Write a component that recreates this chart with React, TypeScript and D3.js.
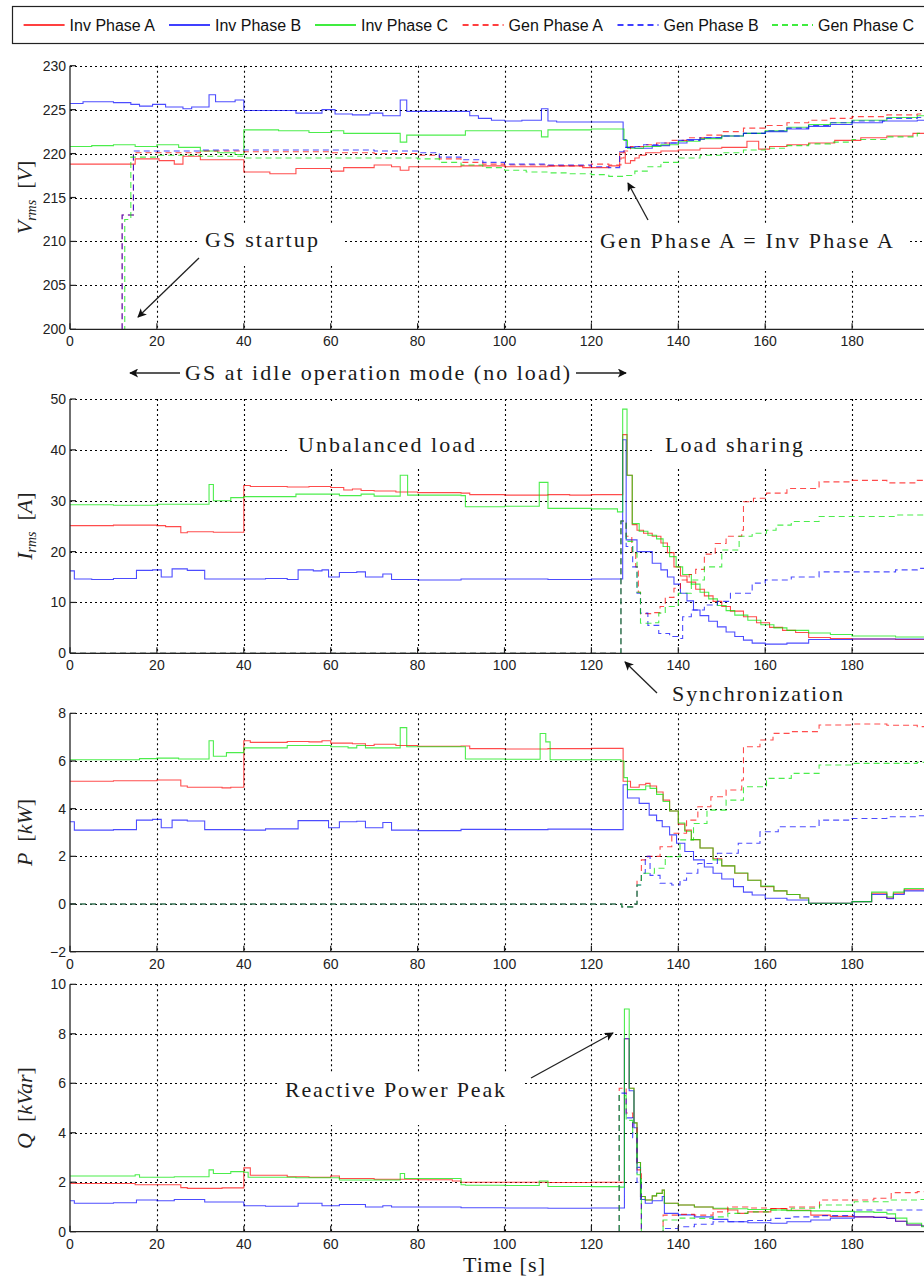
import React from 'react';
import * as d3 from 'd3';

type Pt = [number, number];

// ---------------- DATA ----------------
const legendLabels = ['Inv Phase A', 'Inv Phase B', 'Inv Phase C', 'Gen Phase A', 'Gen Phase B', 'Gen Phase C'];
const xTicks = [0, 20, 40, 60, 80, 100, 120, 140, 160, 180, 200];
const vTicks = [200, 205, 210, 215, 220, 225, 230];
const iTicks = [0, 10, 20, 30, 40, 50];
const pTicks = [-2, 0, 2, 4, 6, 8];
const qTicks = [0, 2, 4, 6, 8, 10];

// Panel 1: Vrms [V]
const vInvA: Pt[] = [[0,218.8],[15,219.4],[20.5,219.2],[24,218.8],[26,219.7],[30,219.3],[40,217.9],[46,217.7],[52,218.3],[60,218],[63,218.4],[70,218.7],[74,218.5],[76,218.1],[78,218.5],[90,218.6],[100,218.5],[110,218.6],[118,218.4],[124,218.6],[126.5,220.1],[127.8,218.9],[129,219.2],[130,219.5],[131,219.8],[132.5,220.1],[136,220.3],[140,220.4],[145,220.6],[150,220.7],[155.8,221.4],[158.5,220.5],[161,220.8],[165,221],[170,221.2],[176,221.5],[182,221.8],[188,222],[194,222.3],[200,222.4]];
const vInvB: Pt[] = [[0,225.7],[3,225.9],[10,225.8],[14,225.6],[16,225.4],[19,225.6],[22,225.3],[26,225.1],[28,225.3],[32,226.7],[33.5,225.9],[38,226.1],[40,224.9],[50,224.9],[52,224.6],[58,225],[61,224.5],[65,224.4],[69,224.6],[72,224.3],[76,226.1],[77.5,224.8],[90,224.8],[92,224.3],[94,224],[97,223.8],[100,223.7],[104,223.8],[108.5,225.1],[110,223.7],[112,223.6],[127.3,221.6],[128,220.7],[130,220.6],[134,220.9],[138,221.2],[142,221.6],[146,221.8],[150,222],[155,222.3],[160,222.5],[165,222.8],[170,223.1],[175,223.3],[180,223.5],[187,223.7],[195,223.8],[200,223.9]];
const vInvC: Pt[] = [[0,220.8],[5,220.9],[10,221],[15,220.8],[20,221],[25,220.7],[30,220.3],[34,220.1],[38,219.9],[40,222.7],[48,222.6],[55,222.4],[60,222.6],[63,222.3],[76,221.3],[77.5,222.1],[91,222.6],[108.5,221.9],[110,222.7],[120,222.8],[127.5,221.5],[128.3,220.6],[132,220.8],[136,221],[140,221.4],[145,221.7],[150,222],[155,222.3],[160,222.6],[165,223],[170,223.3],[175,223.5],[180,223.8],[188,224.1],[195,224.3],[200,224.3]];
const vGenA: Pt[] = [[0,190],[12,213],[14.6,220.1],[30,220.3],[40,220.2],[60,220.1],[70,220],[80,219.8],[85,219.4],[90,219],[95,218.8],[100,218.7],[110,218.6],[120,218.8],[124,218.7],[126.8,219.5],[127.5,220.3],[129,220.8],[132,221],[135,221.2],[138,221.5],[142,221.8],[146,222.1],[150,222.5],[155,222.9],[160,223.2],[165,223.5],[170,223.8],[175,224],[180,224.2],[188,224.4],[195,224.5],[200,224.6]];
const vGenB: Pt[] = [[0,190],[12,213],[14.6,220.3],[30,220.4],[50,220.4],[70,220.3],[80,220.1],[85,219.6],[90,219.3],[95,219],[100,218.8],[110,218.7],[120,218.5],[124,218.4],[126.5,220.2],[127.5,220.7],[130,220.8],[132,221],[136,221.2],[140,221.5],[145,221.8],[150,222],[155,222.3],[160,222.6],[165,222.9],[170,223.2],[175,223.5],[180,223.7],[188,224],[195,224.1],[200,224.1]];
const vGenC: Pt[] = [[0,190],[12.6,212.5],[14,219.6],[20,219.8],[30,219.7],[40,219.5],[60,219.5],[80,219.4],[85,219],[90,218.7],[95,218.4],[100,218.1],[105,217.9],[110,217.8],[115,217.7],[120,217.6],[124,217.4],[127.5,217.5],[130,218],[133,218.5],[136,219],[140,219.5],[145,219.8],[150,220.1],[155,220.4],[160,220.6],[165,220.9],[170,221.1],[175,221.3],[180,221.6],[188,221.9],[195,222.3],[200,222.3]];

// Panel 2: Irms [A]
const iInvA: Pt[] = [[0,25.1],[10,25.2],[20,25.1],[22,24.9],[25.5,23.7],[27,23.9],[33,23.8],[40,33],[41.5,32.8],[50,32.7],[55,32.8],[60,32.6],[63,32.1],[65,32.3],[67,32],[70,31.9],[75,31.7],[80,31.6],[90,31.5],[92,31.2],[100,31.1],[110,31.2],[115,31.1],[120,31.2],[127.2,43],[128.2,35],[129.4,25.3],[130.5,24.2],[132,23.6],[134,23],[136,21.7],[137.5,19.8],[139,17],[140.5,15.2],[142,14],[144,12.6],[146,11.3],[148,10.2],[150,9.2],[152,8.3],[155,7.2],[158,6],[161,5.1],[164,4.5],[167,4.1],[170,3.1],[175,2.9],[180,2.8],[190,2.7],[200,2.7]];
const iInvB: Pt[] = [[0,16.2],[1,14.6],[5,14.5],[10,14.7],[15.3,16.3],[19,16.4],[21,15],[23.5,16.6],[27,16.3],[31,14.6],[40,14.6],[45,14.7],[50,14.5],[52.5,16.4],[56,16.2],[58,16.4],[59.5,15],[62,15.9],[66,16],[68,15],[72,15.6],[74,14.5],[80,14.4],[90,14.6],[100,14.6],[110,14.5],[120,14.6],[127.2,42],[128,22.3],[130.5,20],[134,17.7],[136,16.4],[137.5,15],[139,13.6],[140.5,11.8],[142,10.3],[143.5,8.5],[145,7.4],[147,6.3],[149,5.2],[151,4.2],[153,3.3],[155,2.6],[157,2],[160,1.8],[165,2],[170,2.7],[180,2.8],[200,2.8]];
const iInvC: Pt[] = [[0,29.2],[10,29.1],[20,29.3],[32,33.2],[33,30],[37,30.6],[40,30.8],[52,31.3],[62,31],[67,31.3],[70,30.9],[76,35],[77.7,31.1],[90,31],[91,28.8],[100,28.9],[108,33.6],[110,28.5],[120,28.4],[126,27.8],[127.2,48],[128.2,35],[129.4,25.5],[131,24],[133,23.2],[135,22.5],[136.5,21],[138,19],[139.5,17],[141,15.5],[143,13.6],[145,12],[147,10.7],[149,9.4],[151,8.4],[153,7.5],[156,6.5],[159,5.6],[162,5],[165,4.5],[170,4],[175,3.7],[180,3.4],[190,3.2],[200,3.1]];
const iGenA: Pt[] = [[0,0],[126.8,26],[128,23],[129.3,20],[130.2,17],[130.8,12],[131.3,7.8],[134,8],[135.8,9.2],[137,11],[139,12.8],[140.5,14.4],[142.5,15.5],[144,16.5],[146,19.5],[148.5,21.6],[151,23],[154.6,24.2],[155,29.8],[157.3,30.5],[160.3,31.5],[165,32.4],[172.4,33.7],[180,34],[188,33.5],[195,34],[200,34]];
const iGenB: Pt[] = [[0,0],[126.8,26],[128,21],[129.5,17],[130.5,11.8],[131.3,7.9],[133,5.5],[135.5,3.9],[138,3.3],[140,2.9],[141,7.2],[143,8.5],[146,9.5],[149,10.2],[152,11.8],[157,13.8],[160,14.4],[166,15],[172.4,16],[180,16],[190,16.4],[195,16.7],[200,16.7]];
const iGenC: Pt[] = [[0,0],[126.8,26],[128,22],[129.5,19.7],[130.5,12],[131.3,5.9],[134,6],[135.5,7.9],[137,9.2],[140,11.8],[143,14.4],[146,17],[150,20.3],[154,23],[157,23.6],[160.3,24.2],[162.5,25.2],[166,25.9],[172.4,26.9],[180,26.9],[190,27.2],[200,27.3]];

// Panel 3: P [kW]
const pInvA: Pt[] = [[0,5.15],[10,5.17],[20,5.2],[25.5,4.95],[27,4.9],[35,4.87],[37,4.9],[40,6.85],[41.5,6.78],[50,6.82],[55,6.8],[58,6.85],[60,6.75],[65,6.72],[68,6.65],[70,6.7],[75,6.65],[80,6.62],[90,6.63],[92,6.52],[100,6.5],[110,6.52],[120,6.53],[127.3,5.15],[129,4.9],[131,5.0],[132.5,5.06],[133.5,4.95],[135,4.7],[136.5,4.36],[138,3.9],[140,3.35],[141.5,3.1],[143,2.7],[145,2.35],[148,1.9],[150,1.6],[153,1.29],[156,1.0],[159,0.73],[162,0.55],[165,0.4],[168,0.25],[170,0.03],[175,0.03],[180,0.1],[184.5,0.45],[188,0.25],[189.5,0.45],[192,0.6],[200,0.65]];
const pInvB: Pt[] = [[0,3.45],[1,3.1],[10,3.12],[15.3,3.52],[19,3.55],[21,3.2],[23.5,3.52],[27,3.48],[31,3.12],[40,3.1],[45,3.15],[52.5,3.5],[59.5,3.2],[62,3.45],[66,3.47],[68,3.2],[72,3.42],[74,3.1],[80,3.08],[90,3.13],[100,3.12],[110,3.14],[120,3.12],[127.3,5.0],[128.3,4.45],[131,4.22],[133.3,3.73],[135,3.5],[136.3,3.24],[138,2.9],[139.6,2.55],[141.5,2.2],[143.5,1.85],[146,1.55],[148,1.29],[150,1.05],[152.7,0.73],[155,0.5],[157,0.38],[160,0.24],[165,0.17],[170,0.03],[175,0.03],[180,0.1],[184.5,0.4],[188,0.22],[189.5,0.4],[192,0.55],[200,0.6]];
const pInvC: Pt[] = [[0,6.05],[16,6.1],[20,6.12],[25,6.08],[32,6.85],[33,6.2],[36,6.35],[40,6.55],[50,6.65],[60,6.6],[64,6.55],[66,6.65],[68,6.55],[76,7.4],[77.5,6.6],[90,6.6],[91,6.08],[100,6.07],[108.2,7.15],[109.5,6.8],[110.5,6.05],[120,6.05],[126.8,6.0],[127.5,5.3],[128.3,4.8],[130,4.8],[132.5,4.95],[133.5,4.85],[135,4.6],[136.5,4.3],[138,3.9],[140,3.4],[141.5,3.05],[143,2.7],[145,2.35],[148,1.85],[150,1.6],[153,1.3],[156,1.0],[159,0.75],[162,0.55],[165,0.4],[168,0.25],[170,0.03],[180,0.1],[184.5,0.5],[188,0.3],[189.5,0.5],[192,0.65],[200,0.7]];
const pGenA: Pt[] = [[0,0],[127,-0.12],[129.5,0],[130.5,1.0],[131.5,1.85],[133,2.0],[135.8,2.4],[138.5,2.97],[141.9,3.52],[144.5,4.08],[147.5,4.5],[151,4.78],[154.6,5.2],[155,6.6],[158.8,6.88],[161.8,7.16],[166,7.23],[172.4,7.51],[180,7.55],[188,7.5],[195,7.44],[200,7.44]];
const pGenB: Pt[] = [[0,0],[127,-0.12],[129.5,0],[130.5,0.8],[131.5,1.29],[132.4,2.0],[133.5,1.2],[135.8,0.87],[138.5,0.8],[140.4,1.0],[141.9,1.29],[144.5,1.7],[149,2.13],[153.8,2.55],[158.8,3.03],[163,3.24],[172.4,3.52],[180,3.59],[188,3.66],[195,3.7],[200,3.7]];
const pGenC: Pt[] = [[0,0],[127,-0.12],[129.5,0],[130.5,0.8],[131.5,1.29],[134.5,1.5],[137,1.99],[140.4,2.69],[143.5,3.38],[146.6,3.94],[151,4.36],[155,4.92],[160.3,5.27],[166,5.48],[172.4,5.83],[180,5.9],[195,5.94],[200,5.95]];

// Panel 4: Q [kVar]
const qInvA: Pt[] = [[0,1.95],[15,1.9],[25.5,1.78],[27,1.75],[35,1.77],[40,2.58],[41.5,2.28],[50,2.22],[55,2.2],[60,2.25],[62,2.15],[70,2.12],[80,2.1],[88,2.05],[90,2.0],[110,1.99],[120,2.0],[127.6,7.8],[128.7,5.8],[129.8,4.4],[130.5,2.8],[131.3,1.42],[132.4,1.28],[134,1.45],[135,1.55],[136.3,1.68],[136.8,1.15],[140,1.08],[143.7,1.0],[148,0.92],[151.4,0.88],[153.7,0.74],[156,0.8],[161.3,0.94],[165,0.87],[170.5,0.67],[175,0.62],[180.5,0.6],[185,0.58],[188,0.54],[190,0.42],[192.6,0.27],[196,0.23],[200,0.23]];
const qInvB: Pt[] = [[0,1.25],[1,1.15],[10,1.17],[15.3,1.28],[20,1.25],[24,1.3],[31,1.2],[40,1.05],[45,1.03],[52.5,1.15],[58,1.05],[62,1.1],[68,1.0],[72,1.05],[74,1.0],[90,0.97],[100,0.96],[110,0.95],[120,0.96],[127.6,7.8],[128.7,5.7],[129.8,4.2],[130.5,2.6],[131.3,1.3],[132.4,1.15],[134,1.25],[136.3,1.42],[136.8,0.74],[140,0.68],[143.7,0.6],[148,0.5],[151.4,0.4],[156,0.36],[161.3,0.34],[165,0.4],[170.5,0.47],[175,0.55],[180.5,0.6],[185,0.58],[188,0.54],[190,0.42],[192.6,0.27],[196,0.23],[200,0.23]];
const qInvC: Pt[] = [[0,2.25],[15,2.3],[16,2.2],[24,2.22],[32,2.5],[33,2.35],[37,2.43],[40,2.4],[41,2.2],[52,2.18],[62,2.09],[76,2.35],[77,2.15],[90,1.9],[91,1.88],[100,1.87],[108,2.05],[110,1.83],[120,1.82],[126.5,1.8],[127.6,9.0],[128.7,5.8],[129.8,4.4],[130.5,2.8],[131.3,1.42],[132.4,1.28],[134,1.45],[135,1.55],[136.3,1.68],[136.8,1.15],[140,1.08],[143.7,1.0],[148,0.95],[151.4,0.93],[156,0.9],[161.3,0.88],[165,0.85],[170.5,0.84],[175,0.82],[180.5,0.8],[185,0.78],[188,0.72],[190,0.55],[192.6,0.34],[196,0.2],[200,0.2]];
const qGenA: Pt[] = [[0,0],[126.4,5.8],[128,4.8],[129.5,4.2],[130.5,2.5],[131.5,-0.5],[136.5,0.67],[140,0.7],[143.7,0.67],[148,0.8],[151.4,1.0],[156,0.96],[161.3,0.94],[165,1.0],[172.5,1.28],[180.5,1.28],[185,1.35],[189,1.58],[195,1.62],[200,1.62]];
const qGenB: Pt[] = [[0,0],[126.4,5.6],[128,4.6],[129.5,3.8],[130.5,2.0],[131.5,-0.5],[136.5,0.13],[140,0.2],[143.7,0.3],[148,0.4],[151.4,0.4],[156,0.45],[161.3,0.54],[166,0.6],[172.5,0.65],[180.5,0.88],[200,0.88]];
const qGenC: Pt[] = [[0,0],[126.4,5.5],[128,4.5],[129.5,4.0],[130.5,2.3],[131.5,-0.5],[136.5,0.47],[140,0.55],[143.7,0.54],[148,0.6],[151.4,0.74],[156,0.8],[161.3,0.88],[166,0.95],[172.5,1.08],[180.5,1.21],[189,1.28],[195,1.3],[200,1.3]];

// ---------------- STYLE / LAYOUT ----------------
const W = 924;
const H = 1277;
const colors = ['#ff0000', '#0000ff', '#00e600', '#ff0000', '#0000ff', '#00e600'];
const dashed = [false, false, false, true, true, true];
const AXIS_LEFT = 70;
const X_PX_PER_S = 4.345;
const tickFont = 'Arial, "Liberation Sans", Helvetica, sans-serif';
const serif = '"Liberation Serif", "Times New Roman", serif';

const x = d3.scaleLinear().domain([0, 200]).range([AXIS_LEFT, AXIS_LEFT + 200 * X_PX_PER_S]);

type Box = { x0: number; x1: number; y0: number; y1: number };
type PanelDef = {
  id: string; top: number; bottom: number; domain: [number, number]; ticks: number[];
  series: Pt[][]; label: { main: string; sub?: string; unit: string }; boxes: Box[];
};

const panels: PanelDef[] = [
  { id: 'v', top: 65.7, bottom: 329.3, domain: [200, 230], ticks: vTicks,
    series: [vInvA, vInvB, vInvC, vGenA, vGenB, vGenC],
    label: { main: 'V', sub: 'rms', unit: 'V' },
    boxes: [{ x0: 197, x1: 343, y0: 225, y1: 266 }, { x0: 593, x1: 908, y0: 225, y1: 271 }] },
  { id: 'i', top: 399, bottom: 653.3, domain: [0, 50], ticks: iTicks,
    series: [iInvA, iInvB, iInvC, iGenA, iGenB, iGenC],
    label: { main: 'I', sub: 'rms', unit: 'A' },
    boxes: [{ x0: 287, x1: 480, y0: 402, y1: 467 }, { x0: 652, x1: 807, y0: 402, y1: 467 }] },
  { id: 'p', top: 713.3, bottom: 951.7, domain: [-2, 8], ticks: pTicks,
    series: [pInvA, pInvB, pInvC, pGenA, pGenB, pGenC],
    label: { main: 'P', unit: 'kW' }, boxes: [] },
  { id: 'q', top: 984.3, bottom: 1231.7, domain: [0, 10], ticks: qTicks,
    series: [qInvA, qInvB, qInvC, qGenA, qGenB, qGenC],
    label: { main: 'Q', unit: 'kVar' },
    boxes: [{ x0: 277, x1: 523, y0: 1072, y1: 1125 }] },
];

const annotations = [
  { text: 'GS startup', x: 205, y: 247, len: 113 },
  { text: 'Gen Phase A = Inv Phase A', x: 600, y: 248, len: 293 },
  { text: 'GS at idle operation mode (no load)', x: 185, y: 380, len: 385 },
  { text: 'Unbalanced load', x: 298, y: 452, len: 177 },
  { text: 'Load sharing', x: 665, y: 452, len: 138 },
  { text: 'Synchronization', x: 672, y: 701, len: 171 },
  { text: 'Reactive Power Peak', x: 285, y: 1097, len: 220 },
];

const arrows = [
  { x1: 199, y1: 258, x2: 138, y2: 317 },
  { x1: 648, y1: 220, x2: 628, y2: 183 },
  { x1: 180, y1: 373, x2: 130, y2: 373 },
  { x1: 576, y1: 373, x2: 626, y2: 373 },
  { x1: 657, y1: 693, x2: 625, y2: 662 },
  { x1: 531, y1: 1078, x2: 613, y2: 1033 },
];

const legendItems = [23.6, 169, 315, 462.6, 617.5, 772];

const gridDash = '2 3';

function Panel({ p }: { p: PanelDef }) {
  const y = d3.scaleLinear().domain(p.domain).range([p.bottom, p.top]);
  const line = d3.line<Pt>().x(d => x(d[0])).y(d => y(d[1])).curve(d3.curveStepAfter);
  const xEnd = x(200);
  const clipId = `clip-${p.id}`;
  const cy = (p.top + p.bottom) / 2;
  const labelTicks = xTicks.filter(t => x(t) + 12 < W);
  return (
    <g>
      <defs>
        <clipPath id={clipId}>
          <rect x={AXIS_LEFT} y={p.top} width={xEnd - AXIS_LEFT} height={p.bottom - p.top} />
        </clipPath>
      </defs>
      {/* grid */}
      {p.ticks.filter(t => t !== p.domain[0]).map(t => (
        <line key={'h' + t} x1={AXIS_LEFT} x2={xEnd} y1={Math.round(y(t)) + 0.5} y2={Math.round(y(t)) + 0.5}
          stroke="#000" strokeWidth={1.1} strokeDasharray={gridDash} />
      ))}
      {xTicks.filter(t => t !== 0).map(t => (
        <line key={'v' + t} x1={Math.round(x(t)) + 0.5} x2={Math.round(x(t)) + 0.5} y1={p.top} y2={p.bottom}
          stroke="#000" strokeWidth={1.1} strokeDasharray={gridDash} />
      ))}
      {p.boxes.map((b, i) => (
        <rect key={'b' + i} x={b.x0} y={b.y0} width={b.x1 - b.x0} height={b.y1 - b.y0} fill="#fff" />
      ))}
      {/* series */}
      <g clipPath={`url(#${clipId})`}>
        {p.series.map((s, i) => (
          <path key={i} d={line(s) || ''} fill="none" stroke={colors[i]} strokeWidth={1.1}
            strokeOpacity={0.7} strokeDasharray={dashed[i] ? '6 4' : undefined} />
        ))}
      </g>
      {/* axes */}
      <line x1={AXIS_LEFT} x2={AXIS_LEFT} y1={p.top} y2={p.bottom} stroke="#222" strokeWidth={1.3} />
      <line x1={AXIS_LEFT} x2={xEnd} y1={p.bottom} y2={p.bottom} stroke="#222" strokeWidth={1.3} />
      {p.ticks.map(t => (
        <g key={'yt' + t}>
          <line x1={AXIS_LEFT} x2={AXIS_LEFT + 6} y1={y(t)} y2={y(t)} stroke="#222" strokeWidth={1.2} />
          <text x={AXIS_LEFT - 4} y={y(t) + 5} textAnchor="end" fontFamily={tickFont} fontSize={14} fill="#222">
            {t < 0 ? '\u2212' + Math.abs(t) : String(t)}
          </text>
        </g>
      ))}
      {xTicks.map(t => (
        <line key={'xtm' + t} x1={x(t)} x2={x(t)} y1={p.bottom} y2={p.bottom - 6} stroke="#222" strokeWidth={1.2} />
      ))}
      {labelTicks.map(t => (
        <text key={'xt' + t} x={x(t)} y={p.bottom + 17} textAnchor="middle" fontFamily={tickFont} fontSize={14} fill="#222">{t}</text>
      ))}
      {/* y label */}
      <text transform={`translate(32,${cy}) rotate(-90)`} textAnchor="middle" fontFamily={serif} fontSize={22} fill="#222">
        <tspan fontStyle="italic">{p.label.main}</tspan>
        {p.label.sub ? <tspan fontStyle="italic" fontSize={14} dy={4}>{p.label.sub}</tspan> : null}
        <tspan dy={p.label.sub ? -4 : 0}>{'\u00a0\u00a0['}</tspan>
        <tspan fontStyle="italic">{p.label.unit}</tspan>
        <tspan>]</tspan>
      </text>
    </g>
  );
}

export default function App() {
  return (
    <svg width={W} height={H} viewBox={`0 0 ${W} ${H}`}
      style={{ position: 'absolute', left: 0, top: 0, background: '#fff' }}>
      <defs>
        <marker id="ah" viewBox="0 0 10 10" refX={9} refY={5} markerWidth={11} markerHeight={9}
          markerUnits="userSpaceOnUse" orient="auto">
          <path d="M0,0 L10,5 L0,10 L2.5,5 Z" fill="#111" />
        </marker>
      </defs>
      <rect x={0} y={0} width={W} height={H} fill="#fff" />
      {/* legend */}
      <rect x={12.5} y={6.5} width={940} height={37} fill="#fff" stroke="#222" strokeWidth={1.2} />
      {legendItems.map((lx, i) => (
        <g key={i}>
          <line x1={lx} x2={lx + 41} y1={25} y2={25} stroke={colors[i]} strokeWidth={1.3}
            strokeDasharray={dashed[i] ? '6 4' : undefined} />
          <text x={lx + 46} y={30.5} fontFamily={tickFont} fontSize={16} fill="#111">{legendLabels[i]}</text>
        </g>
      ))}
      {panels.map(p => <Panel key={p.id} p={p} />)}
      {/* annotations */}
      {annotations.map((a, i) => (
        <text key={i} x={a.x} y={a.y} fontFamily={serif} fontSize={22} fill="#1a1a1a"
          textLength={a.len} lengthAdjust="spacing">{a.text}</text>
      ))}
      {arrows.map((a, i) => (
        <line key={i} x1={a.x1} y1={a.y1} x2={a.x2} y2={a.y2} stroke="#222" strokeWidth={1.3} markerEnd="url(#ah)" />
      ))}
      <text x={463} y={1272} fontFamily={serif} fontSize={22} fill="#1a1a1a" textLength={82} lengthAdjust="spacing">Time [s]</text>
    </svg>
  );
}
